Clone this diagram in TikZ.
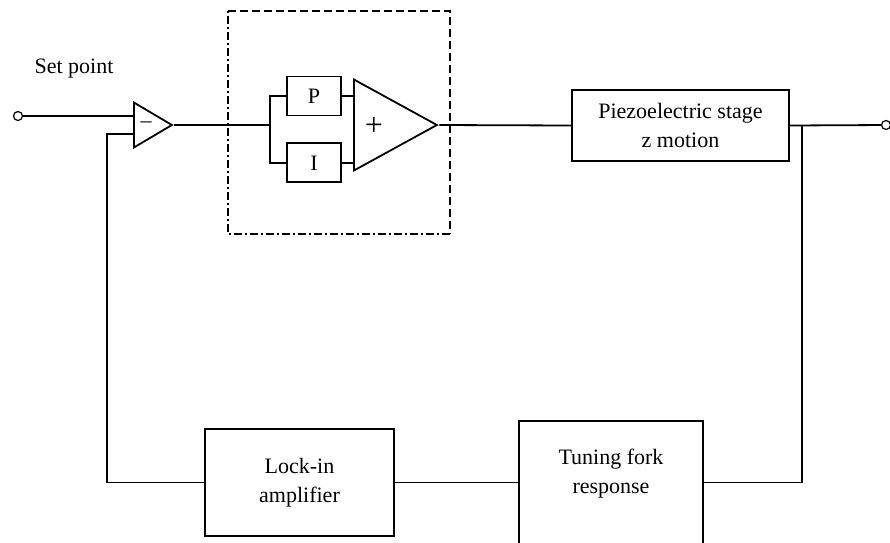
\documentclass[tikz,border=0pt]{standalone}
\usepackage{fontspec}
\setmainfont{Liberation Serif}
\usetikzlibrary{positioning,shapes.geometric}

\begin{document}
\begin{tikzpicture}[
  x=1pt, y=-1pt,
  font=\fontsize{22}{29}\selectfont,
  line width=1.8pt,
  node distance=26pt,
  blk/.style={rectangle, draw, align=center, inner sep=0pt},
  amp/.style={isosceles triangle, draw, isosceles triangle stretches=true, inner sep=0pt, anchor=lower side},
  sign/.style={font=\fontsize{32}{32}\selectfont, inner sep=0pt},
  term/.style={circle, draw, line width=1.2pt, minimum size=9pt, inner sep=0pt},
  dashline/.style={line width=1.5pt, dash pattern=on 8pt off 4pt},
  dashdotline/.style={line width=1.5pt, dash pattern=on 8pt off 3pt on 2pt off 3pt}
]
\useasboundingbox (0,0) rectangle (890,542);

\node[term] (sp) at (18,116) {};
\node (splabel) at (74,69) {Set point};
\node[amp, minimum width=45pt, minimum height=38pt] (sub) at (133,125) {};
\node (minus) at (146,125) {--};
\coordinate (split) at (270,125);
\coordinate (fb) at (107,134);

% PI controller
\node[blk, minimum width=54pt, minimum height=39pt] (p) at (314,96) {P};
\node[blk, minimum width=54pt, minimum height=39pt, below=26pt of p] (i) {I};
\node[amp, minimum width=91pt, minimum height=83pt] (sum) at (353,125) {};
\node[sign] (plus) at (374,126) {+};
\node[minimum width=220pt, minimum height=221pt] (pid) at (339,122.5) {};

\node[blk, minimum width=217pt, minimum height=71pt] (piezo) at (680.5,125.5) {Piezoelectric stage\\z motion};
\node[term] (out) at (886,125) {};
\coordinate (branch) at (802,125);

% feedback path
\node[blk, minimum width=189pt, minimum height=107pt] (lock) at (299.5,482.5) {Lock-in\\amplifier};
\node[blk, minimum width=184pt, inner ysep=28pt, text depth=80pt, anchor=north] (tune) at (611,420) {Tuning fork\\response};

\draw (sp) -- (sp -| sub.lower side);
\draw (sub.apex) -- (split);
\draw (p.west) -| (split) |- (i.west);
\draw (p.east) -- (p.east -| sum.lower side);
\draw (i.east) -- (i.east -| sum.lower side);
\draw (sum.apex) -- (piezo.west);
\draw (piezo.east) -- (out);
\draw (branch) |- (tune.east |- lock.east);
\draw (lock.east) -- (lock.east -| tune.west);
\draw (lock.west) -| (fb) -- (fb -| sub.lower side);

\draw[dashline] (pid.north west) -- (pid.north east) -- (pid.south east);
\draw[dashdotline] (pid.south east) -- (pid.south west) -- (pid.north west);
\end{tikzpicture}
\end{document}
